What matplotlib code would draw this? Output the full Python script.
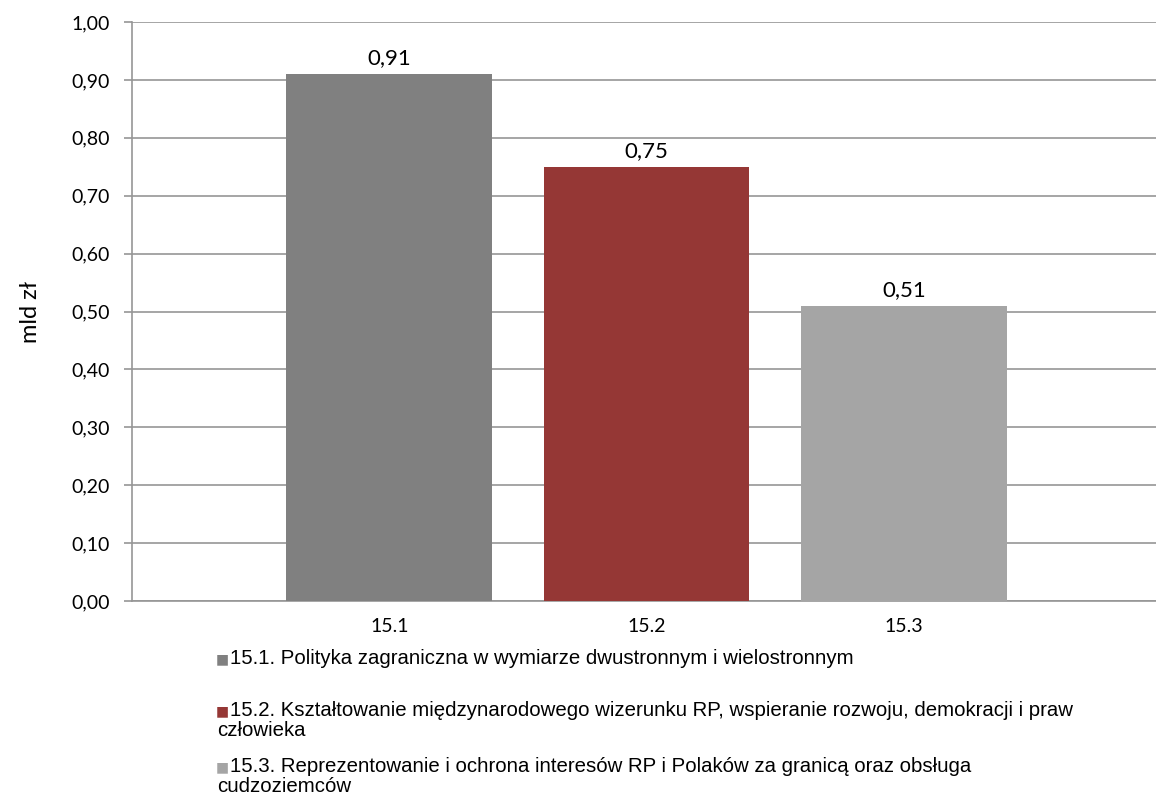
import matplotlib.pyplot as plt
import numpy as np

categories = ['15.1', '15.2', '15.3']
values = [0.91, 0.75, 0.51]
colors = ['#808080', '#953735', '#A5A5A5']
legend_labels = [
    ['15.1. Polityka zagraniczna w wymiarze dwustronnym i wielostronnym'],
    ['15.2. Kształtowanie międzynarodowego wizerunku RP, wspieranie rozwoju, demokracji i praw',
     'człowieka'],
    ['15.3. Reprezentowanie i ochrona interesów RP i Polaków za granicą oraz obsługa',
     'cudzoziemców'],
]
yticks = np.arange(0, 1.01, 0.1)

fig = plt.figure(figsize=(11.56, 8.10), dpi=100)
ax = fig.add_axes([132/1156, 1 - 601/810, 1 - 132/1156, (601 - 22)/810])

x = np.arange(len(categories))
ax.bar(x, values, width=0.80, color=colors, zorder=3)
for xi, v in zip(x, values):
    ax.text(xi, v + 0.01, f'{v:.2f}'.replace('.', ','), ha='center', va='bottom',
            fontsize=16, family='Lato', color='#000000')

ax.set_xlim(-1, 2.98)
ax.set_ylim(0, 1.0)
ax.set_yticks(yticks)
ax.set_yticklabels([f'{t:.2f}'.replace('.', ',') for t in yticks], family='Lato', fontsize=14)
ax.set_xticks(x)
ax.set_xticklabels(categories, family='Lato', fontsize=14)
ax.tick_params(axis='x', length=0, pad=12)
ax.tick_params(axis='y', length=6, color='#969696', width=1.2, pad=10)
ax.grid(axis='y', color='#969696', linewidth=1.2, zorder=0)
for s in ['top', 'right']:
    ax.spines[s].set_visible(False)
ax.spines['left'].set_color('#969696')
ax.spines['left'].set_linewidth(1.2)
ax.spines['bottom'].set_color('#969696')
ax.spines['bottom'].set_linewidth(1.2)
ax.set_ylabel('mld zł', family='Lato', fontsize=17, labelpad=22)

# legend below the chart
ys = [658, 710, 766]
for lines, col, yy in zip(legend_labels, colors, ys):
    fig.text(216/1156, 1 - (yy + 1)/810, '■', color=col, fontsize=10, va='center', family='DejaVu Sans')
    fig.text(230/1156, 1 - yy/810, lines[0], fontsize=14.7, va='center', ha='left',
             family='Liberation Sans')
    if len(lines) > 1:
        fig.text(217/1156, 1 - (yy + 20)/810, lines[1], fontsize=14.7, va='center', ha='left',
                 family='Liberation Sans')

fig.savefig('out.png', dpi=100)
